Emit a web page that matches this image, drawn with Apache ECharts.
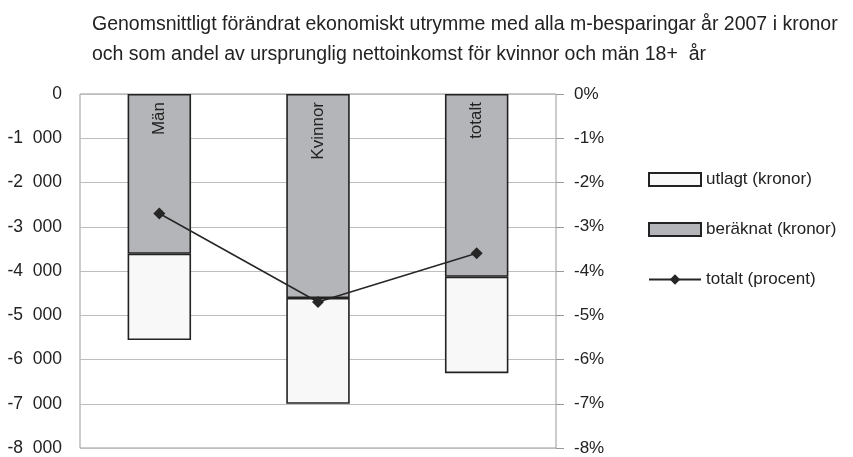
<!DOCTYPE html>
<html>
<head>
<meta charset="utf-8">
<script src="https://cdn.jsdelivr.net/npm/echarts@6/dist/echarts.min.js"></script>
<style>
html, body { margin: 0; padding: 0; background: #fff; }
#main { width: 853px; height: 457px; }
</style>
</head>
<body>
<div id="main"></div>
<script>
var categories = ['Män', 'Kvinnor', 'totalt']
var beraknat = [-3610, -4610, -4130]
var utlagt = [-1950, -2390, -2180]
var procent = [-2.7, -4.7, -3.6]

var fontName = '"Liberation Sans", Arial, sans-serif'

// "-3 000" style, with a wide gap like the original
function formatKronor(v) {
    var s = String(Math.abs(v))
    s = s.replace(/\B(?=(\d{3})+(?!\d))/g, '  ')
    return (v < 0 ? '-' : '') + s
}

var myChart = echarts.init(document.getElementById('main'))

var option = {
    animation: false,
    title: {
        text: 'Genomsnittligt förändrat ekonomiskt utrymme med alla m-besparingar år 2007 i kronor\noch som andel av ursprunglig nettoinkomst för kvinnor och män 18+  år',
        left: 87,
        top: 5,
        textStyle: {
            fontFamily: fontName,
            fontSize: 19.5,
            fontWeight: 'normal',
            color: '#222',
            lineHeight: 30
        }
    },
    legend: {
        orient: 'vertical',
        left: 643,
        top: 166,
        itemWidth: 52,
        itemHeight: 13,
        itemGap: 33,
        data: [
            { name: 'utlagt (kronor)', icon: 'rect' },
            { name: 'beräknat (kronor)', icon: 'rect' },
            'totalt (procent)'
        ],
        textStyle: { fontFamily: fontName, fontSize: 17, color: '#222' }
    },
    grid: {
        left: 80,
        right: 297,
        top: 94,
        bottom: 5,
        show: true,
        borderColor: '#999',
        borderWidth: 1
    },
    xAxis: {
        type: 'category',
        data: categories,
        position: 'top',
        axisLine: { show: false },
        axisTick: { show: false },
        axisLabel: { show: false }
    },
    yAxis: [{
        type: 'value',
        min: -8000,
        max: 0,
        interval: 1000,
        axisLine: { show: false },
        axisTick: { show: false },
        axisLabel: {
            formatter: formatKronor,
            fontFamily: fontName,
            fontSize: 17.5,
            color: '#222',
            margin: 18
        },
        splitLine: { lineStyle: { color: '#bdbdbd' } }
    }, {
        type: 'value',
        min: -8,
        max: 0,
        interval: 1,
        position: 'right',
        axisLine: { show: false },
        axisTick: { show: true, length: 8, lineStyle: { color: '#999' } },
        axisLabel: {
            formatter: '{value}%',
            fontFamily: fontName,
            fontSize: 17,
            color: '#222',
            margin: 18
        },
        splitLine: { show: false }
    }],
    series: [{
        name: 'beräknat (kronor)',
        type: 'bar',
        stack: 'kr',
        barWidth: '40%',
        data: beraknat,
        itemStyle: { color: '#b4b5b8', borderColor: '#222', borderWidth: 1.6 },
        label: {
            show: true,
            position: 'insideTop',
            rotate: 90,
            align: 'right',
            verticalAlign: 'middle',
            distance: 8,
            formatter: function (p) { return p.name },
            fontFamily: fontName,
            fontSize: 17,
            color: '#222'
        }
    }, {
        name: 'utlagt (kronor)',
        type: 'bar',
        stack: 'kr',
        data: utlagt,
        itemStyle: { color: '#f8f8f8', borderColor: '#222', borderWidth: 1.6 }
    }, {
        name: 'totalt (procent)',
        type: 'line',
        yAxisIndex: 1,
        data: procent,
        symbol: 'diamond',
        symbolSize: 12,
        z: 5,
        lineStyle: { color: '#262626', width: 1.5 },
        itemStyle: { color: '#262626' }
    }]
}

myChart.setOption(option)
</script>
</body>
</html>
